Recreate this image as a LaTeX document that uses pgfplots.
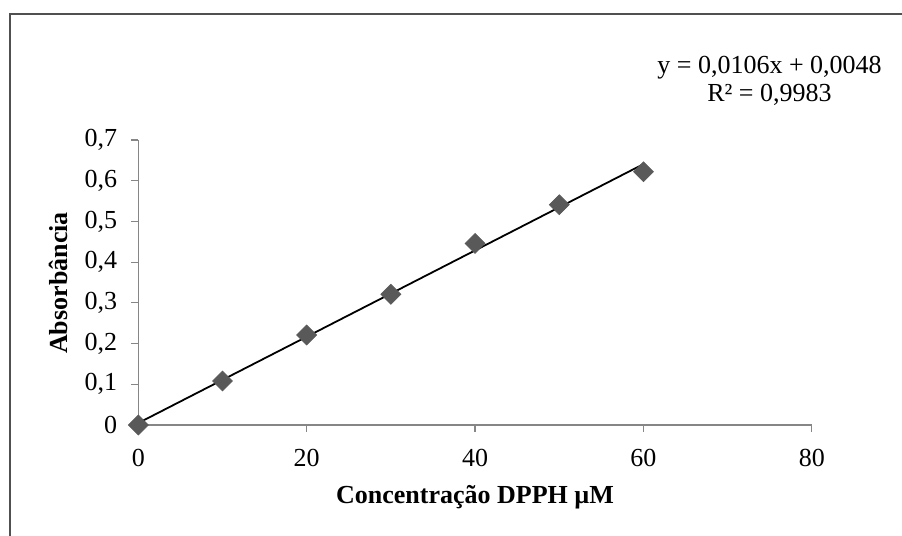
\documentclass[border=0pt]{standalone}
\usepackage{fontspec}
\setmainfont{Liberation Serif}
\usepackage{pgfplots}
\pgfplotsset{compat=1.18}
\definecolor{axisgray}{RGB}{134,134,134}
\definecolor{markgray}{RGB}{89,89,89}
\definecolor{framegray}{RGB}{80,80,80}
\begin{document}
\begin{tikzpicture}
\useasboundingbox (0pt,0pt) rectangle (451pt,268pt);
\clip (0pt,0pt) rectangle (451pt,268pt);
\fill[white] (0pt,0pt) rectangle (451pt,268pt);
\draw[framegray, line width=0.6pt] (5pt,-10pt) -- (5pt,261pt) -- (470pt,261pt);
\begin{axis}[
  at={(69.15pt,55.5pt)}, anchor=south west,
  scale only axis, width=336.8pt, height=142.5pt,
  xmin=0, xmax=80, ymin=0, ymax=0.7,
  axis lines*=left,
  axis line style={axisgray, line width=0.6pt, -},
  xtick={0,20,40,60,80},
  ytick={0,0.1,0.2,0.3,0.4,0.5,0.6,0.7},
  tick align=outside,
  major tick length=3.5pt,
  tick style={axisgray, line width=0.6pt},
  ticklabel style={font=\fontsize{13}{15}\selectfont, text=black},
  xticklabel style={yshift=-5pt},
  yticklabel style={xshift=-3.5pt, /pgf/number format/fixed, /pgf/number format/precision=1},
  /pgf/number format/assume math mode=true,
  /pgf/number format/use comma,
  clip=false,
]
\addplot[black, line width=0.9pt] coordinates {(0,0.0048) (60,0.6408)};
\addplot[only marks, mark=square*, mark size=3.5pt, mark options={rotate=45, fill=markgray, draw=markgray}] coordinates {
(0,0) (10,0.108) (20,0.221) (30,0.321) (40,0.446) (50,0.541) (60,0.622)};
\end{axis}
\node[align=center, font=\fontsize{13}{14}\selectfont, anchor=center] at (384.75pt,227.5pt) {y = 0,0106x + 0,0048\\R² = 0,9983};
\node[font=\fontsize{13}{15}\selectfont\bfseries, anchor=center] at (237.5pt,19.5pt) {Concentração DPPH µM};
\node[font=\fontsize{13}{15}\selectfont\bfseries, anchor=center, rotate=90] at (29pt,126.5pt) {Absorbância};
\end{tikzpicture}
\end{document}
